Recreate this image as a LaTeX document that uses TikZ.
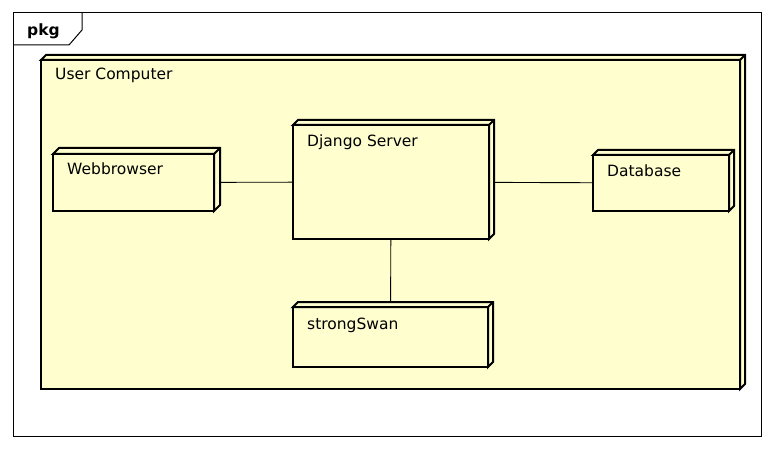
\documentclass[tikz,border=0pt]{standalone}
\usepackage{fontspec}
\setmainfont{DejaVu Sans}
\definecolor{umlfill}{HTML}{FEFECE}
\pgfdeclarelayer{bg}
\pgfdeclarelayer{edges}
\pgfsetlayers{bg,edges,main}
\tikzset{
  box/.style={draw, line width=2pt, fill=umlfill, inner sep=0pt, outer sep=0pt, anchor=north west},
  side3d/.style={draw, line width=2pt, fill=umlfill, line join=miter},
  lbl/.style={anchor=base west, inner sep=0pt, font=\fontsize{15.5}{18}\selectfont},
  conn/.style={draw, line width=0.9pt},
  frameline/.style={draw, line width=1pt}
}
\newcommand\cubeside[2]{%
  \filldraw[side3d] (#1.north west) -- ++(#2,-#2) -- ([shift={(#2,-#2)}]#1.north east)
    -- ([shift={(#2,-#2)}]#1.south east) -- (#1.south east) -- (#1.north east) -- cycle;
  \draw[side3d] (#1.north east) -- ++(#2,-#2);}
\begin{document}
\begin{tikzpicture}[x=1pt,y=-1pt]
\useasboundingbox (0,0) rectangle (773,449);
\begin{pgfonlayer}{bg}
  \fill[white] (0,0) rectangle (773,449);
  \draw[frameline] (13,13) rectangle (761,436);
  \draw[frameline] (13,45) -- (69,45) -- (82,30) -- (82,13);
  \node[lbl, font=\fontsize{15.5}{18}\selectfont\bfseries] (pkg) at (27,36) {pkg};
  \node[box, minimum width=699pt, minimum height=329pt] (uc) at (41,60) {};
  \cubeside{uc}{5}
  \node[lbl] (uct) at (55,80) {User Computer};
\end{pgfonlayer}

\node[box, minimum width=161pt, minimum height=57pt] (wb) at (53,154) {};
\cubeside{wb}{6}
\node[lbl] (wbt) at (67,175) {Webbrowser};

\node[box, minimum width=196pt, minimum height=114pt] (dj) at (293,125) {};
\cubeside{dj}{5}
\node[lbl] (djt) at (307,147) {Django Server};

\node[box, minimum width=136pt, minimum height=56pt] (db) at (593,155) {};
\cubeside{db}{5}
\node[lbl] (dbt) at (607,176) {Database};

\node[box, minimum width=195pt, minimum height=60pt] (ss) at (293,307) {};
\cubeside{ss}{5}
\node[lbl] (sst) at (307,329) {strongSwan};

\begin{pgfonlayer}{edges}
  \draw[conn] (wb.center) -- (dj.center);
  \draw[conn] (dj.center) -- (db.center);
  \draw[conn] (dj.center) -- (ss.center);
\end{pgfonlayer}
\end{tikzpicture}
\end{document}
